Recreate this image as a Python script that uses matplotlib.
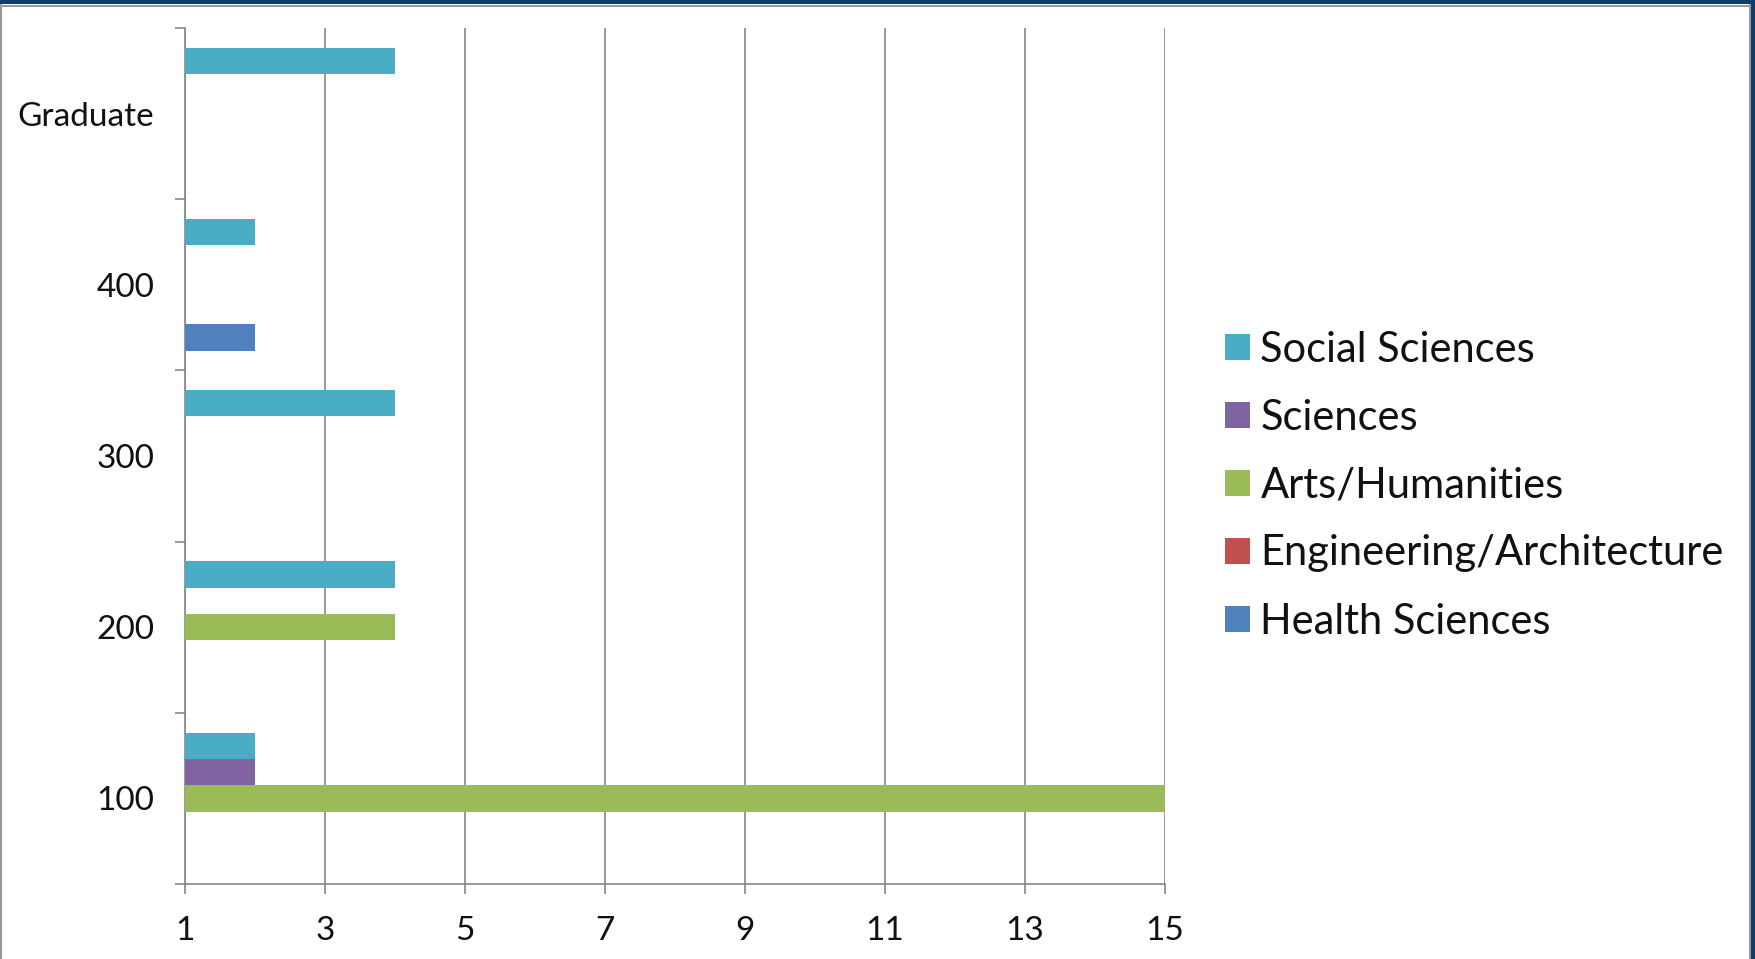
import matplotlib
matplotlib.use("Agg")
import matplotlib.pyplot as plt
import numpy as np
from matplotlib.patches import Patch, Rectangle
from matplotlib.lines import Line2D

categories = ["100", "200", "300", "400", "Graduate"]
series_names = ["Health Sciences", "Engineering/Architecture", "Arts/Humanities", "Sciences", "Social Sciences"]
health = [0, 0, 0, 2, 0]
engineering = [0, 0, 0, 0, 0]
arts = [15, 4, 0, 0, 0]
sciences = [2, 0, 0, 0, 0]
social = [2, 4, 4, 2, 4]
colors = ["#4F81BD", "#C0504D", "#9BBB59", "#8064A2", "#4BACC6"]
xticks = [1, 3, 5, 7, 9, 11, 13, 15]

plt.rcParams['font.family'] = ['Lato', 'DejaVu Sans']

W, H = 1756, 959
fig = plt.figure(figsize=(W/100, H/100), dpi=100)
ax = fig.add_axes([185/W, 1-884/H, 980/W, (884-28)/H])

values = [health, engineering, arts, sciences, social]
w = 1/6.5
y = np.arange(len(categories))
for i, (vals, c) in enumerate(zip(values, colors)):
    ax.barh(y + (i-2)*w, vals, height=w, color=c, left=0, zorder=3)

ax.set_xlim(1, 15)
ax.set_ylim(-0.5, 4.5)
ax.set_xticks(xticks)
ax.set_xticklabels([str(t) for t in xticks], fontsize=24, color='#111111')
ax.set_yticks(y)
ax.set_yticklabels(categories, fontsize=24, color='#111111')
ax.set_yticks(np.arange(-0.5, 5, 1), minor=True)
ax.tick_params(axis='y', which='major', length=0, pad=22)
ax.tick_params(axis='y', which='minor', length=7, width=1.2, color='#868686')
ax.tick_params(axis='x', which='major', length=7, width=1.2, color='#868686', pad=16)
ax.grid(axis='x', color='#868686', linewidth=1.2, zorder=0)
for s in ['top', 'right']:
    ax.spines[s].set_visible(False)
for s in ['left', 'bottom']:
    ax.spines[s].set_color('#868686')
    ax.spines[s].set_linewidth(1.2)

handles = [Patch(facecolor=colors[i], edgecolor='none') for i in range(4, -1, -1)]
labels = [series_names[i] for i in range(4, -1, -1)]
fig.legend(handles, labels, loc='center left', bbox_to_anchor=(1225/W, 1-485.5/H),
           frameon=False, fontsize=30, handlelength=0.6, handleheight=0.6,
           handletextpad=0.25, labelspacing=0.72, borderpad=0, borderaxespad=0,
           labelcolor='#111111')

# frame
navy = '#0E3C6C'
fig.patches.append(Rectangle((0, 1-4/H), 1, 4/H, transform=fig.transFigure,
                             facecolor=navy, edgecolor='none', zorder=10))
fig.patches.append(Rectangle((1-5/W, 0), 5/W, 1, transform=fig.transFigure,
                             facecolor=navy, edgecolor='none', zorder=10))
gray = '#9A9A9A'
fig.lines.append(Line2D([1/W, 1/W], [0, 1-4/H], transform=fig.transFigure, color=gray, lw=1.5))
fig.lines.append(Line2D([0, 1-5/W], [1-5.5/H, 1-5.5/H], transform=fig.transFigure, color=gray, lw=1.5))
fig.lines.append(Line2D([1-6/W, 1-6/W], [0, 1-4/H], transform=fig.transFigure, color=gray, lw=1.5))

fig.savefig("out.png", dpi=100)
